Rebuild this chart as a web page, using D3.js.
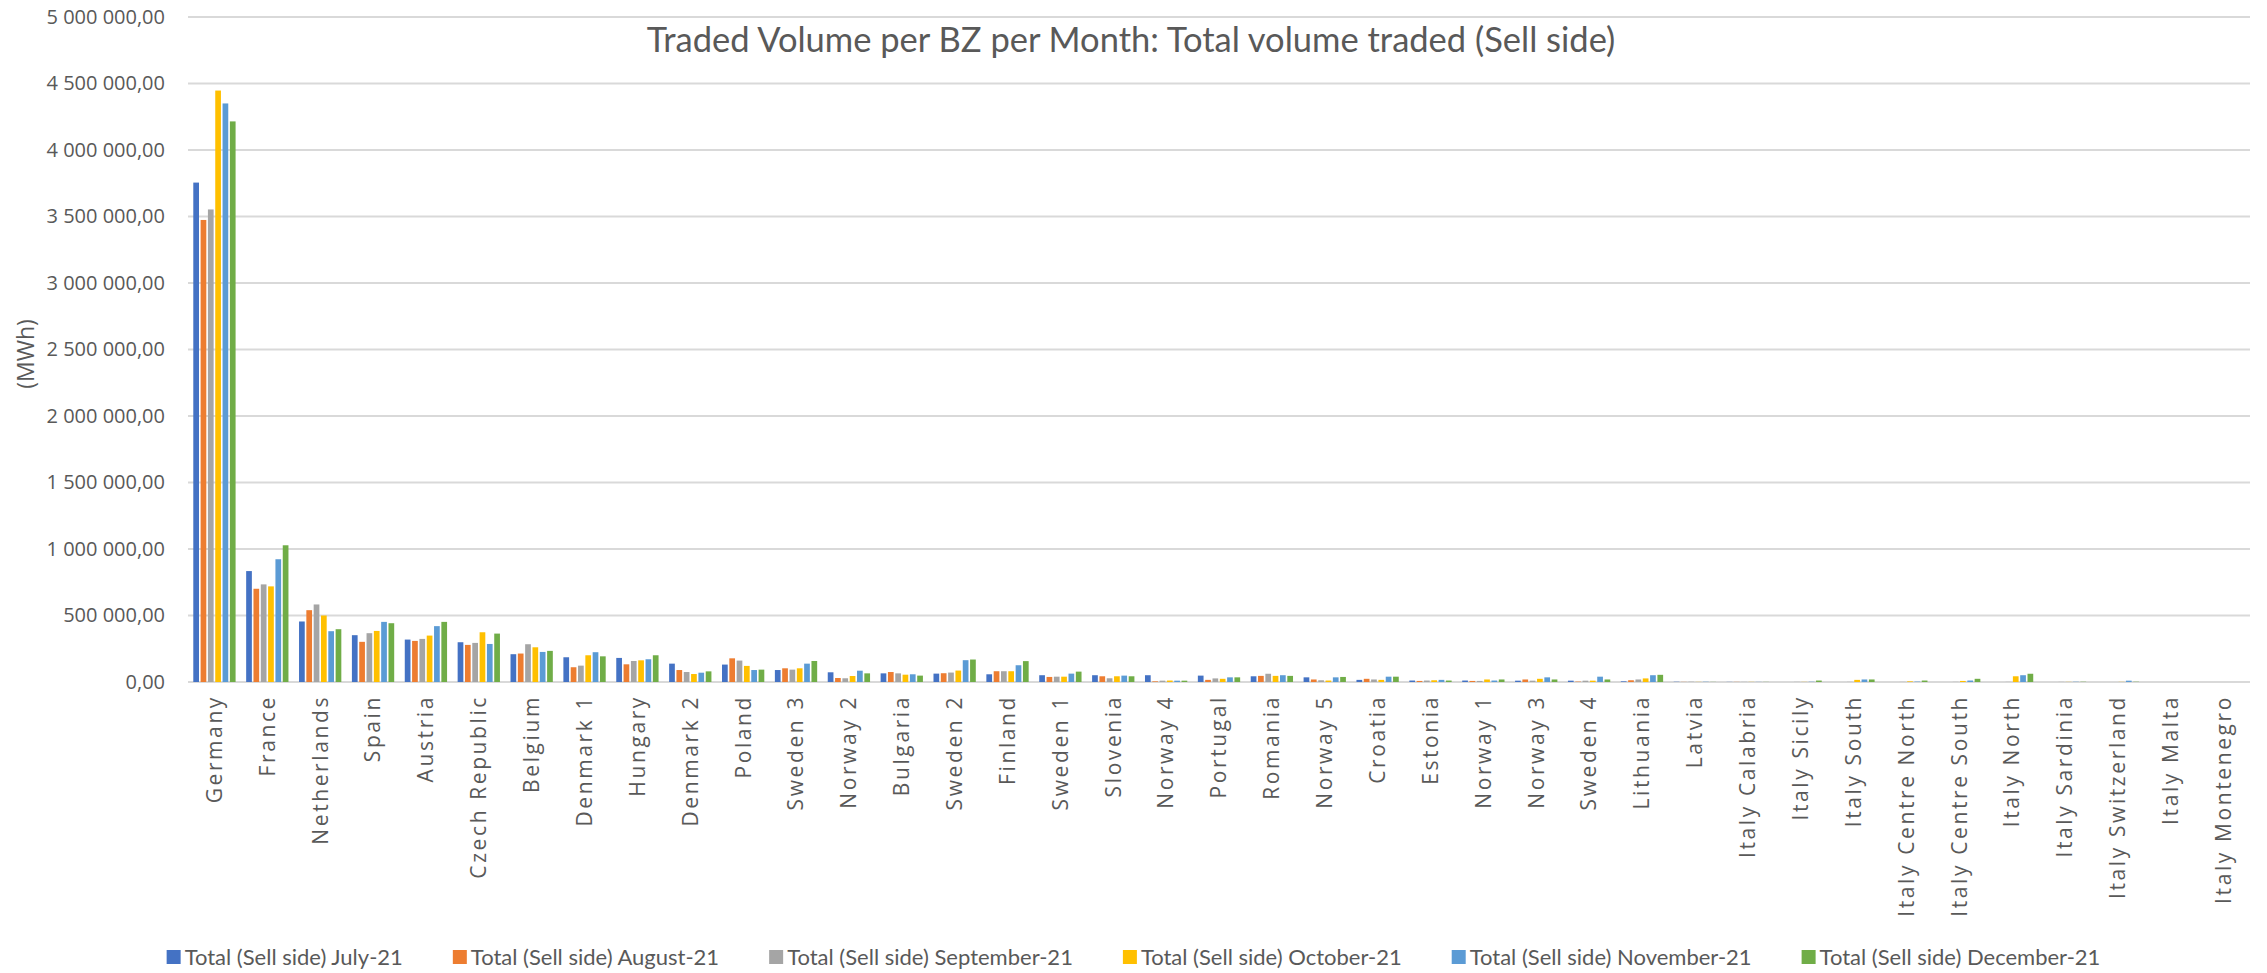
<!DOCTYPE html>
<html>
<head>
<meta charset="utf-8">
<script src="https://cdn.jsdelivr.net/npm/d3@7"></script>
<style>
  body { margin: 0; background: #fff; }
  svg { display: block; }
</style>
</head>
<body>
<div class="canvas"></div>
<script>
// data (MWh)
const zones = ['Germany', 'France', 'Netherlands', 'Spain', 'Austria', 'Czech Republic', 'Belgium',
  'Denmark 1', 'Hungary', 'Denmark 2', 'Poland', 'Sweden 3', 'Norway 2', 'Bulgaria', 'Sweden 2',
  'Finland', 'Sweden 1', 'Slovenia', 'Norway 4', 'Portugal', 'Romania', 'Norway 5', 'Croatia',
  'Estonia', 'Norway 1', 'Norway 3', 'Sweden 4', 'Lithuania', 'Latvia', 'Italy Calabria',
  'Italy Sicily', 'Italy South', 'Italy Centre North', 'Italy Centre South', 'Italy North',
  'Italy Sardinia', 'Italy Switzerland', 'Italy Malta', 'Italy Montenegro'];

const months = ['July-21', 'August-21', 'September-21', 'October-21', 'November-21', 'December-21'];

const july = [3755000, 834000, 455000, 352000, 319000, 299000, 209000, 186000, 181000, 138000, 131000,
  90000, 73000, 65000, 63000, 58000, 51000, 51000, 51000, 48000, 43000, 35000, 16000, 11000, 11000,
  10000, 10000, 5000, 2000, 1000, 0, 0, 0, 0, 0, 0, 0, 0, 0];
const august = [3474000, 701000, 540000, 302000, 309000, 279000, 214000, 111000, 133000, 90000, 178000,
  103000, 30000, 75000, 66000, 81000, 38000, 43000, 5000, 16000, 46000, 19000, 24000, 8000, 8000,
  19000, 3000, 13000, 1000, 1000, 0, 0, 0, 0, 0, 0, 0, 0, 0];
const september = [3553000, 734000, 583000, 367000, 324000, 294000, 284000, 123000, 158000, 75000, 161000,
  93000, 28000, 65000, 71000, 81000, 40000, 28000, 10000, 27000, 62000, 13000, 19000, 11000, 8000,
  10000, 10000, 19000, 2000, 1000, 1000, 1000, 1000, 1000, 1000, 1000, 0, 0, 0];
const october = [4447000, 719000, 500000, 384000, 349000, 374000, 261000, 201000, 163000, 60000, 121000,
  103000, 45000, 55000, 86000, 81000, 40000, 43000, 11000, 24000, 46000, 11000, 16000, 13000, 19000,
  24000, 10000, 27000, 1000, 1000, 1000, 16000, 5000, 8000, 43000, 1000, 1000, 0, 0];
const november = [4350000, 923000, 382000, 452000, 420000, 286000, 226000, 224000, 171000, 70000, 90000,
  138000, 85000, 58000, 164000, 126000, 63000, 48000, 10000, 35000, 51000, 35000, 40000, 16000, 11000,
  35000, 40000, 51000, 2000, 1000, 2000, 19000, 3000, 11000, 51000, 2000, 10000, 0, 0];
const december = [4215000, 1028000, 397000, 442000, 452000, 364000, 234000, 193000, 201000, 80000, 93000,
  158000, 65000, 48000, 169000, 157000, 78000, 43000, 10000, 35000, 46000, 38000, 40000, 11000, 19000,
  19000, 19000, 54000, 1000, 1000, 11000, 19000, 11000, 24000, 62000, 2000, 2000, 0, 0];

const seriesValues = [july, august, september, october, november, december];
const seriesNames = months.map(m => 'Total (Sell side) ' + m);
const colours = ['#4472C4', '#ED7D31', '#A5A5A5', '#FFC000', '#5B9BD5', '#70AD47'];
const yTicks = d3.range(0, 5000001, 500000);

const width = 2267;
const height = 973;
const margin = { top: 17, right: 17, bottom: 291, left: 188 };
const graphWidth = width - margin.left - margin.right;
const graphHeight = height - margin.top - margin.bottom;

const svg = d3.select('.canvas')
  .append('svg')
  .attr('width', width)
  .attr('height', height);

const graph = svg.append('g')
  .attr('transform', `translate(${margin.left}, ${margin.top})`);

// scales
const x0 = d3.scaleBand().domain(zones).range([0, graphWidth]).padding(0);
const groupW = x0.bandwidth() * 0.8;
const x1 = d3.scaleBand().domain(d3.range(6)).range([0, groupW]).paddingInner(0.22);
const y = d3.scaleLinear().domain([0, 5000000]).range([graphHeight, 0]);

const loc = d3.formatLocale({ decimal: ',', thousands: '\u00a0', grouping: [3], currency: ['', ''] });
const fmt = loc.format(',.2f');

// gridlines
graph.append('g')
  .selectAll('line')
  .data(yTicks)
  .enter()
  .append('line')
    .attr('x1', 0)
    .attr('x2', graphWidth)
    .attr('y1', d => y(d))
    .attr('y2', d => y(d))
    .attr('stroke', '#d9d9d9')
    .attr('stroke-width', 2);

// y axis labels
const yAxis = d3.axisLeft(y).tickValues(yTicks).tickFormat(fmt).tickSize(0).tickPadding(23);
const yAxisGroup = graph.append('g').call(yAxis);
yAxisGroup.select('.domain').remove();
yAxisGroup.selectAll('text')
  .attr('fill', '#595959')
  .style('font-family', '"Open Sans", sans-serif')
  .style('font-size', '20px');

// bars
const groups = graph.selectAll('g.zone')
  .data(zones)
  .enter()
  .append('g')
    .attr('class', 'zone')
    .attr('transform', d => `translate(${x0(d) + (x0.bandwidth() - groupW) / 2}, 0)`);

groups.selectAll('rect')
  .data((d, i) => seriesValues.map((s, k) => ({ k, v: s[i] })))
  .enter()
  .append('rect')
    .attr('x', d => x1(d.k))
    .attr('width', x1.bandwidth())
    .attr('y', d => y(d.v))
    .attr('height', d => graphHeight - y(d.v))
    .attr('fill', d => colours[d.k]);

// x axis labels
const xAxis = d3.axisBottom(x0).tickSize(0).tickPadding(0);
const xAxisGroup = graph.append('g')
  .attr('transform', `translate(0, ${graphHeight})`)
  .call(xAxis);
xAxisGroup.select('.domain').remove();
xAxisGroup.selectAll('text')
  .attr('transform', 'rotate(-90)')
  .attr('text-anchor', 'end')
  .attr('x', -13)
  .attr('y', 0)
  .attr('dy', '0.35em')
  .attr('fill', '#595959')
  .style('font-family', '"Open Sans", sans-serif')
  .style('font-size', '21px')
  .style('letter-spacing', '2.6px');

// axis title
svg.append('text')
  .attr('transform', `translate(26, 354) rotate(-90)`)
  .attr('text-anchor', 'middle')
  .attr('dy', '0.35em')
  .attr('fill', '#595959')
  .style('font-family', '"Open Sans", sans-serif')
  .style('font-size', '23px')
  .text('(MWh)');

// title
svg.append('text')
  .attr('x', 1131)
  .attr('y', 40)
  .attr('text-anchor', 'middle')
  .attr('dy', '0.35em')
  .attr('fill', '#595959')
  .style('font-family', 'Lato, sans-serif')
  .style('font-size', '34.5px')
  .text('Traded Volume per BZ per Month: Total volume traded (Sell side)');

// legend
const legend = svg.append('g');
const items = legend.selectAll('g')
  .data(seriesNames)
  .enter()
  .append('g');
items.append('rect')
  .attr('width', 14)
  .attr('height', 14)
  .attr('y', -7)
  .attr('fill', (d, i) => colours[i]);
items.append('text')
  .attr('x', 18)
  .attr('dy', '0.35em')
  .attr('fill', '#595959')
  .style('font-family', 'Lato, sans-serif')
  .style('font-size', '22px')
  .text(d => d);

let pos = 0;
const gap = 50;
items.each(function () {
  const w = 18 + d3.select(this).select('text').node().getComputedTextLength();
  d3.select(this).attr('transform', `translate(${pos}, 0)`);
  pos += w + gap;
});
const total = pos - gap;
legend.attr('transform', `translate(${(width - total) / 2}, 957)`);
</script>
</body>
</html>
